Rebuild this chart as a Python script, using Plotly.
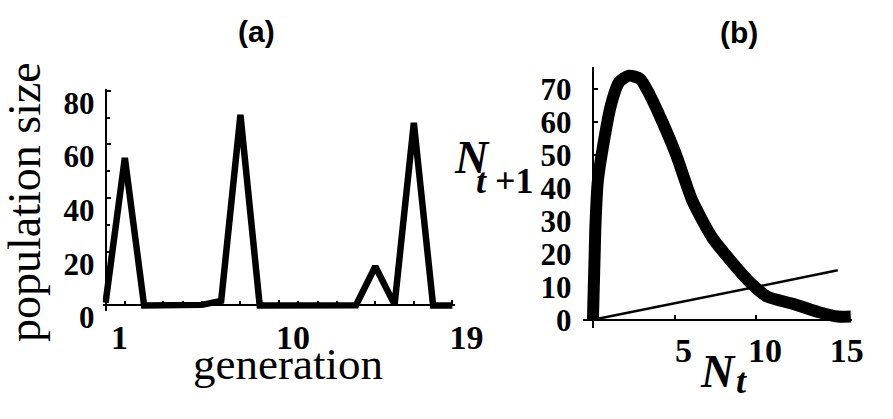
import plotly.graph_objects as go

# ---- data ----
generation = list(range(1, 20))
population = [1, 55, 0, 0, 0, 0.2, 1.7, 71, 0, 0, 0, 0, 0, 0.1, 14.5, 0.3, 68, 0, 0]
gen_tickvals = [1, 10, 19]
pop_tickvals = [0, 20, 40, 60, 80]

nt = [0, 0.15, 0.3, 0.6, 1.1, 1.6, 2.2, 2.9, 3.5, 4.3, 5.1, 6.1, 7.3, 8.5, 9.7, 10.7, 12.3, 13.8, 15.0, 15.8]
nt1 = [0, 28, 42, 52, 65, 72, 74, 73, 68, 59.5, 50, 36, 25, 17.6, 11, 7, 4.8, 2.4, 1, 1]
ident_x = [0, 15]
ident_y = [0, 15]
nt_tickvals = [5, 10, 15]
nt1_tickvals = [0, 10, 20, 30, 40, 50, 60, 70]

FW, FH = 893, 419
def px(x):
    return x / FW
def py(y):
    return 1 - y / FH

fig = go.Figure()
fig.add_trace(go.Scatter(x=generation, y=population, mode="lines",
                         line=dict(color="black", width=6.5),
                         xaxis="x", yaxis="y", hoverinfo="skip"))
fig.add_trace(go.Scatter(x=ident_x, y=ident_y, mode="lines",
                         line=dict(color="black", width=2.5),
                         xaxis="x2", yaxis="y2", hoverinfo="skip"))
fig.add_trace(go.Scatter(x=nt, y=nt1, mode="lines",
                         line=dict(color="black", width=12, shape="spline", smoothing=0.6),
                         xaxis="x2", yaxis="y2", hoverinfo="skip"))

tickfont = dict(family="Liberation Serif", size=34, color="black", weight="bold")
ytickfont = dict(family="Liberation Serif", size=31, color="black", weight="bold")

common = dict(showgrid=False, zeroline=False, showline=True, linecolor="black",
              linewidth=2, ticks="inside", tickcolor="black", tickwidth=2, ticklen=4)

fig.update_layout(
    width=FW, height=FH,
    margin=dict(l=0, r=0, t=0, b=0),
    paper_bgcolor="white", plot_bgcolor="rgba(0,0,0,0)",
    showlegend=False,
    xaxis=dict(domain=[px(106), px(470)], range=[0.85, 19.15],
               anchor="free", position=py(323),
               tickmode="array", tickvals=gen_tickvals, tickfont=tickfont,
               ticklabelshift=14, ticklabelstandoff=2,
               minor=dict(tick0=1, dtick=1, ticks="inside", ticklen=3,
                          tickcolor="black", tickwidth=2),
               **common),
    yaxis=dict(domain=[py(328.75), py(91.5)], range=[-2, 80.5],
               anchor="free", position=px(109),
               tickmode="array", tickvals=pop_tickvals, tickfont=ytickfont,
               ticklabelshift=12, ticklabelstandoff=4,
               minor=dict(tick0=0, dtick=10, ticks="inside", ticklen=3,
                          tickcolor="black", tickwidth=2),
               **common),
    xaxis2=dict(domain=[px(602), px(880)], range=[-0.6, 15.9],
                anchor="free", position=py(338.5),
                tickmode="array", tickvals=nt_tickvals, tickfont=tickfont,
                ticklabelshift=9, ticklabelstandoff=0,
                **common),
    yaxis2=dict(domain=[py(347.3), py(67.6)], range=[-2.5, 76.6],
                anchor="free", position=px(612),
                tickmode="array", tickvals=nt1_tickvals, tickfont=ytickfont,
                ticklabelstandoff=14,
                **common),
)

serif = "Liberation Serif"
ann = [
    dict(text="(a)", x=px(265), y=py(30), font=dict(family="Liberation Sans", size=30, color="black", weight="bold")),
    dict(text="(b)", x=px(763), y=py(31), font=dict(family="Liberation Sans", size=30, color="black", weight="bold")),
    dict(text="population size", x=px(26), y=py(212), textangle=-90,
         font=dict(family=serif, size=46, color="black")),
    dict(text="generation", x=px(297), y=py(386),
         font=dict(family=serif, size=45, color="black")),
    dict(text="<b><i>N</i></b>", x=px(487), y=py(164),
         font=dict(family=serif, size=46, color="black")),
    dict(text="<i>t</i> +1", x=px(521), y=py(190),
         font=dict(family=serif, size=36, color="black", weight="bold")),
    dict(text="<b><i>N</i></b>", x=px(741), y=py(394),
         font=dict(family=serif, size=46, color="black")),
    dict(text="<b><i>t</i></b>", x=px(766), y=py(404),
         font=dict(family=serif, size=36, color="black")),
]
for a in ann:
    a.update(xref="paper", yref="paper", showarrow=False, xanchor="center", yanchor="middle")
fig.update_layout(annotations=ann)

fig.write_html("out.html",
               config={"displayModeBar": False, "staticPlot": True},
               post_script="document.body.style.margin='0';document.body.style.padding='0';")
